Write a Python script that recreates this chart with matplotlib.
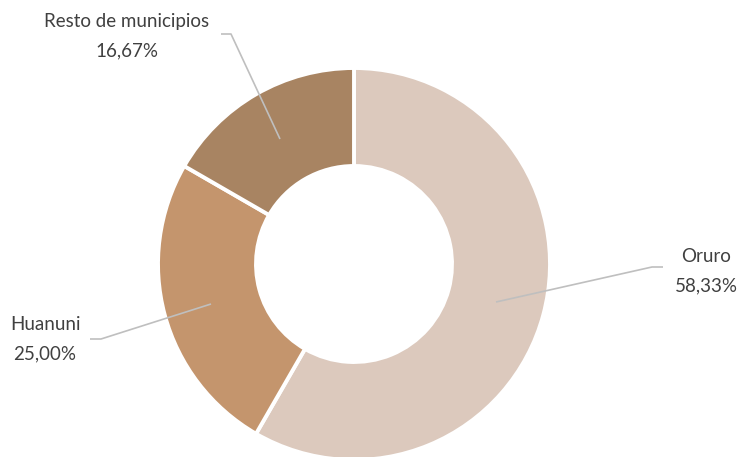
import matplotlib
matplotlib.use("Agg")
import matplotlib.pyplot as plt

categories = ["Oruro", "Huanuni", "Resto de municipios"]
values = [58.33, 25.00, 16.67]
pct_labels = ["58,33%", "25,00%", "16,67%"]
colors = ["#DCC9BD", "#C4956D", "#A88462"]

W, H = 738, 457
fig = plt.figure(figsize=(W / 100, H / 100), dpi=100)
ax = fig.add_axes([0, 0, 1, 1])

cx, cy = 354, H - 264
R = 196
ax.pie(values, colors=colors, startangle=90, counterclock=False,
       center=(cx, cy), radius=R, frame=True,
       wedgeprops=dict(width=R * 0.50, edgecolor="white", linewidth=2.8))
ax.set_xlim(0, W)
ax.set_ylim(0, H)
ax.set_aspect("equal")
ax.axis("off")

# leader lines (pixel coords, y from top)
leaders = [
    [(496, 302), (652, 267), (663, 267)],
    [(211, 304), (101, 339), (90, 339)],
    [(280, 139), (231, 34), (221, 34)],
]
text_pos = [(706, 257), (45, 325), (127, 22)]
for pts, (tx, ty), name, pct in zip(leaders, text_pos, categories, pct_labels):
    xs = [p[0] for p in pts]
    ys = [H - p[1] for p in pts]
    ax.plot(xs, ys, color="#BFBFBF", lw=1.2, solid_capstyle="butt")
    ax.text(tx, H - ty, name, ha="center", va="center", fontsize=13.5,
            color="#404040", family="Lato")
    ax.text(tx, H - ty - 29, pct, ha="center", va="center", fontsize=13.5,
            color="#404040", family="Lato")

fig.savefig("out.png", dpi=100)
